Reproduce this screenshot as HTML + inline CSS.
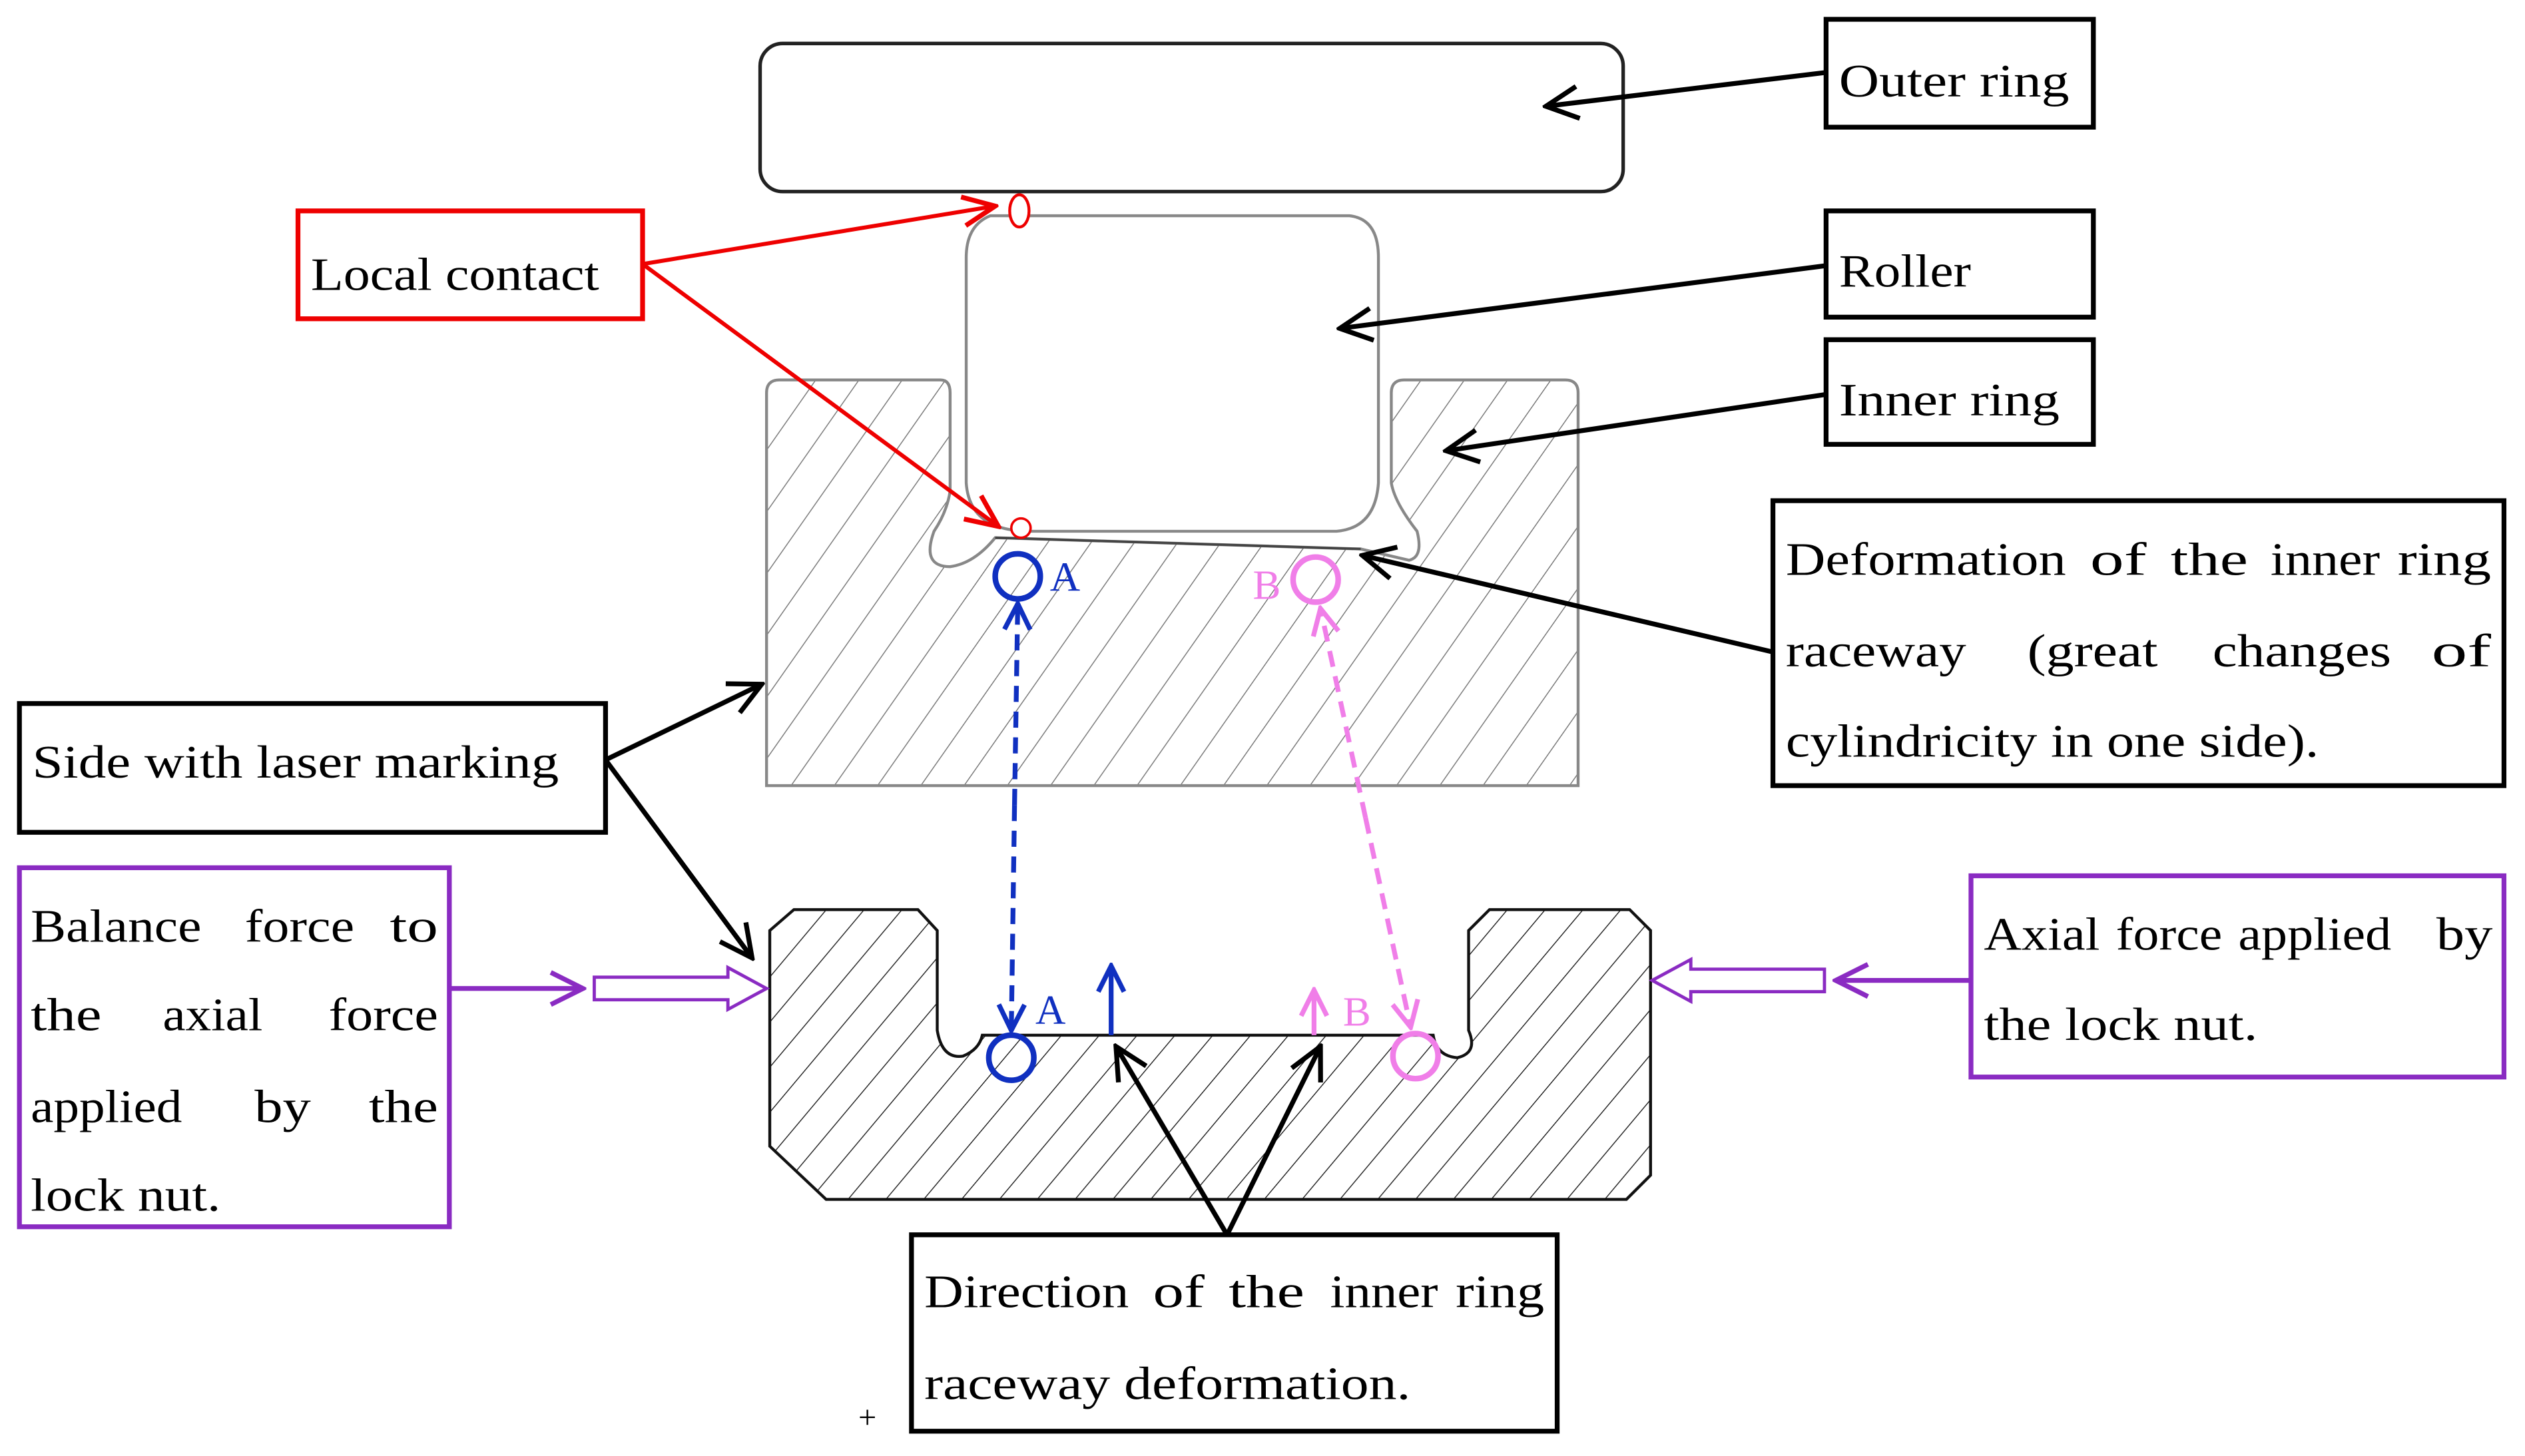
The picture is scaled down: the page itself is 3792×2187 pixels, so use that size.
<!DOCTYPE html>
<html><head><meta charset="utf-8"><style>html,body{margin:0;padding:0;background:#fff}svg{display:block}</style></head>
<body>
<svg width="3792" height="2187" viewBox="0 0 1568 904.4" xmlns="http://www.w3.org/2000/svg" font-family="'Liberation Serif', serif" font-size="29">
<defs>
<pattern id="hg" patternUnits="userSpaceOnUse" width="22" height="22" patternTransform="rotate(35)"><line x1="0" y1="0" x2="0" y2="22" stroke="#777" stroke-width="1.2"/></pattern>
<pattern id="hb" patternUnits="userSpaceOnUse" width="18" height="18" patternTransform="rotate(40)"><line x1="0" y1="0" x2="0" y2="18" stroke="#111" stroke-width="1.1"/></pattern>
<marker id="akb" markerWidth="24" markerHeight="24" refX="22" refY="12" orient="auto" markerUnits="userSpaceOnUse"><path d="M2,2 L22,12 L2,22" fill="none" stroke="#000" stroke-width="3"/></marker>
<marker id="ar" markerWidth="24" markerHeight="24" refX="22" refY="12" orient="auto" markerUnits="userSpaceOnUse"><path d="M2,3 L22,12 L2,21" fill="none" stroke="#e00" stroke-width="3"/></marker>
<marker id="ap" markerWidth="24" markerHeight="24" refX="22" refY="12" orient="auto" markerUnits="userSpaceOnUse"><path d="M2,2 L22,12 L2,22" fill="none" stroke="#8a2bc2" stroke-width="3"/></marker>
<marker id="abl" markerWidth="20" markerHeight="20" refX="18" refY="10" orient="auto" markerUnits="userSpaceOnUse"><path d="M2,2 L18,10 L2,18" fill="none" stroke="#1030c0" stroke-width="3"/></marker>
<marker id="apk" markerWidth="20" markerHeight="20" refX="18" refY="10" orient="auto" markerUnits="userSpaceOnUse"><path d="M2,2 L18,10 L2,18" fill="none" stroke="#f07ee8" stroke-width="3"/></marker>
</defs>

<rect x="472" y="27" width="536" height="92" rx="14" fill="none" stroke="#222" stroke-width="2.2"/>

<path d="M476,244 Q476,236 484,236 L584,236 Q590,236 590,244 L590,305 Q588,318 580,330 Q572,352 590,352 Q605,350 618,334 L845,341 Q862,345 875,348 Q884,346 880,330 Q866,312 864,300 L864,244 Q864,236 872,236 L972,236 Q980,236 980,244 L980,488 L476,488 Z" fill="url(#hg)" stroke="#888" stroke-width="1.8"/>
<path d="M615,134 L838,134 Q856,136 856,160 L856,300 Q854,328 830,330 L640,330 Q602,330 600,300 L600,160 Q600,140 615,134 Z" fill="#fff" stroke="#888" stroke-width="1.8"/>
<path d="M618,334 L845,341" stroke="#444" stroke-width="1.5"/>

<path d="M493,565 L570,565 L582,578 L582,640 Q585,658 598,656 Q608,652 610,643 L890,643 Q892,656 905,657 Q918,654 912,640 L912,578 L925,565 L1012,565 L1025,578 L1025,730 L1010,745 L513,745 L478,712 L478,578 Z" fill="url(#hb)" stroke="#111" stroke-width="1.8"/>

<ellipse cx="633" cy="131" rx="6" ry="10" fill="#fff" stroke="#e00" stroke-width="1.8"/>
<ellipse cx="634" cy="328" rx="6" ry="6" fill="#fff" stroke="#e00" stroke-width="1.5"/>
<rect x="185" y="131" width="214" height="67" fill="#fff" stroke="#e00" stroke-width="3"/>
<text x="193" y="180" textLength="179" lengthAdjust="spacingAndGlyphs">Local contact</text>
<line x1="399" y1="164" x2="618" y2="128" stroke="#e00" stroke-width="2.5" marker-end="url(#ar)"/>
<line x1="399" y1="164" x2="620" y2="327" stroke="#e00" stroke-width="2.5" marker-end="url(#ar)"/>

<rect x="1134" y="12" width="166" height="67" fill="#fff" stroke="#000" stroke-width="3"/>
<text x="1142" y="60" textLength="143" lengthAdjust="spacingAndGlyphs">Outer ring</text>
<line x1="1134" y1="45" x2="960" y2="66" stroke="#000" stroke-width="3" marker-end="url(#akb)"/>
<rect x="1134" y="131" width="166" height="66" fill="#fff" stroke="#000" stroke-width="3"/>
<text x="1142" y="178" textLength="82" lengthAdjust="spacingAndGlyphs">Roller</text>
<line x1="1134" y1="165" x2="832" y2="204" stroke="#000" stroke-width="3" marker-end="url(#akb)"/>
<rect x="1134" y="211" width="166" height="65" fill="#fff" stroke="#000" stroke-width="3"/>
<text x="1142" y="258" textLength="137" lengthAdjust="spacingAndGlyphs">Inner ring</text>
<line x1="1134" y1="245" x2="898" y2="280" stroke="#000" stroke-width="3" marker-end="url(#akb)"/>
<rect x="1101" y="311" width="454" height="177" fill="#fff" stroke="#000" stroke-width="3"/>
<g lengthAdjust="spacingAndGlyphs">
<text x="1109" y="357" textLength="174" lengthAdjust="spacingAndGlyphs">Deformation</text>
<text x="1298" y="357" textLength="35" lengthAdjust="spacingAndGlyphs">of</text>
<text x="1348" y="357" textLength="48" lengthAdjust="spacingAndGlyphs">the</text>
<text x="1410" y="357" textLength="68" lengthAdjust="spacingAndGlyphs">inner</text>
<text x="1489" y="357" textLength="58" lengthAdjust="spacingAndGlyphs">ring</text>
<text x="1109" y="414" textLength="112" lengthAdjust="spacingAndGlyphs">raceway</text>
<text x="1259" y="414" textLength="81" lengthAdjust="spacingAndGlyphs">(great</text>
<text x="1374" y="414" textLength="111" lengthAdjust="spacingAndGlyphs">changes</text>
<text x="1510" y="414" textLength="37" lengthAdjust="spacingAndGlyphs">of</text>
</g>
<text x="1109" y="470" textLength="331" lengthAdjust="spacingAndGlyphs">cylindricity in one side).</text>
<line x1="1101" y1="405" x2="846" y2="345" stroke="#000" stroke-width="3" marker-end="url(#akb)"/>

<rect x="12" y="437" width="364" height="80" fill="#fff" stroke="#000" stroke-width="3"/>
<text x="20" y="483" textLength="327" lengthAdjust="spacingAndGlyphs">Side with laser marking</text>
<line x1="376" y1="472" x2="473" y2="425" stroke="#000" stroke-width="3" marker-end="url(#akb)"/>
<line x1="376" y1="472" x2="467" y2="595" stroke="#000" stroke-width="3" marker-end="url(#akb)"/>

<rect x="12" y="539" width="267" height="223" fill="#fff" stroke="#8a2bc2" stroke-width="3"/>
<text x="19" y="585" textLength="106" lengthAdjust="spacingAndGlyphs">Balance</text>
<text x="152" y="585" textLength="68" lengthAdjust="spacingAndGlyphs">force</text>
<text x="242" y="585" textLength="30" lengthAdjust="spacingAndGlyphs">to</text>
<text x="19" y="640" textLength="44" lengthAdjust="spacingAndGlyphs">the</text>
<text x="101" y="640" textLength="62" lengthAdjust="spacingAndGlyphs">axial</text>
<text x="204" y="640" textLength="68" lengthAdjust="spacingAndGlyphs">force</text>
<text x="19" y="697" textLength="94" lengthAdjust="spacingAndGlyphs">applied</text>
<text x="158" y="697" textLength="35" lengthAdjust="spacingAndGlyphs">by</text>
<text x="229" y="697" textLength="43" lengthAdjust="spacingAndGlyphs">the</text>
<text x="19" y="752" textLength="118" lengthAdjust="spacingAndGlyphs">lock nut.</text>
<line x1="279" y1="614" x2="362" y2="614" stroke="#8a2bc2" stroke-width="3" marker-end="url(#ap)"/>
<path d="M369,607 L452,607 L452,601 L476,614 L452,627 L452,621 L369,621 Z" fill="#fff" stroke="#8a2bc2" stroke-width="2"/>

<rect x="1224" y="544" width="331" height="125" fill="#fff" stroke="#8a2bc2" stroke-width="3"/>
<text x="1232" y="590" textLength="72" lengthAdjust="spacingAndGlyphs">Axial</text>
<text x="1314" y="590" textLength="66" lengthAdjust="spacingAndGlyphs">force</text>
<text x="1390" y="590" textLength="95" lengthAdjust="spacingAndGlyphs">applied</text>
<text x="1513" y="590" textLength="35" lengthAdjust="spacingAndGlyphs">by</text>
<text x="1232" y="646" textLength="170" lengthAdjust="spacingAndGlyphs">the lock nut.</text>
<line x1="1224" y1="609" x2="1140" y2="609" stroke="#8a2bc2" stroke-width="3" marker-end="url(#ap)"/>
<path d="M1133,602 L1050,602 L1050,596 L1026,609 L1050,622 L1050,616 L1133,616 Z" fill="#fff" stroke="#8a2bc2" stroke-width="2"/>

<circle cx="632" cy="358" r="14" fill="none" stroke="#1030c0" stroke-width="3.5"/>
<circle cx="628" cy="657" r="14" fill="none" stroke="#1030c0" stroke-width="3.5"/>
<text x="652" y="367" fill="#1030c0" font-size="26">A</text>
<text x="643" y="636" fill="#1030c0" font-size="26">A</text>
<line x1="630" y1="500" x2="632" y2="375" stroke="#1030c0" stroke-width="3" stroke-dasharray="10,6" marker-end="url(#abl)"/>
<line x1="630" y1="500" x2="628" y2="640" stroke="#1030c0" stroke-width="3" stroke-dasharray="10,6" marker-end="url(#abl)"/>
<line x1="690" y1="643" x2="690" y2="600" stroke="#1030c0" stroke-width="3" marker-end="url(#abl)"/>

<circle cx="817" cy="360" r="14" fill="none" stroke="#f07ee8" stroke-width="3.5"/>
<circle cx="879" cy="656" r="14" fill="none" stroke="#f07ee8" stroke-width="3.5"/>
<text x="778" y="372" fill="#f07ee8" font-size="26">B</text>
<text x="834" y="637" fill="#f07ee8" font-size="26">B</text>
<line x1="848" y1="508" x2="820" y2="378" stroke="#f07ee8" stroke-width="3" stroke-dasharray="10,6" marker-end="url(#apk)"/>
<line x1="848" y1="508" x2="876" y2="638" stroke="#f07ee8" stroke-width="3" stroke-dasharray="10,6" marker-end="url(#apk)"/>
<line x1="816" y1="643" x2="816" y2="615" stroke="#f07ee8" stroke-width="3" marker-end="url(#apk)"/>

<rect x="566" y="767" width="401" height="122" fill="#fff" stroke="#000" stroke-width="3"/>
<text x="574" y="812" textLength="127" lengthAdjust="spacingAndGlyphs">Direction</text>
<text x="716" y="812" textLength="32" lengthAdjust="spacingAndGlyphs">of</text>
<text x="763" y="812" textLength="47" lengthAdjust="spacingAndGlyphs">the</text>
<text x="826" y="812" textLength="67" lengthAdjust="spacingAndGlyphs">inner</text>
<text x="904" y="812" textLength="55" lengthAdjust="spacingAndGlyphs">ring</text>
<text x="574" y="869" textLength="302" lengthAdjust="spacingAndGlyphs">raceway deformation.</text>
<line x1="762" y1="767" x2="693" y2="650" stroke="#000" stroke-width="3" marker-end="url(#akb)"/>
<line x1="762" y1="767" x2="820" y2="650" stroke="#000" stroke-width="3" marker-end="url(#akb)"/>
<text x="533" y="887" font-size="20">+</text>
</svg>
</body></html>
